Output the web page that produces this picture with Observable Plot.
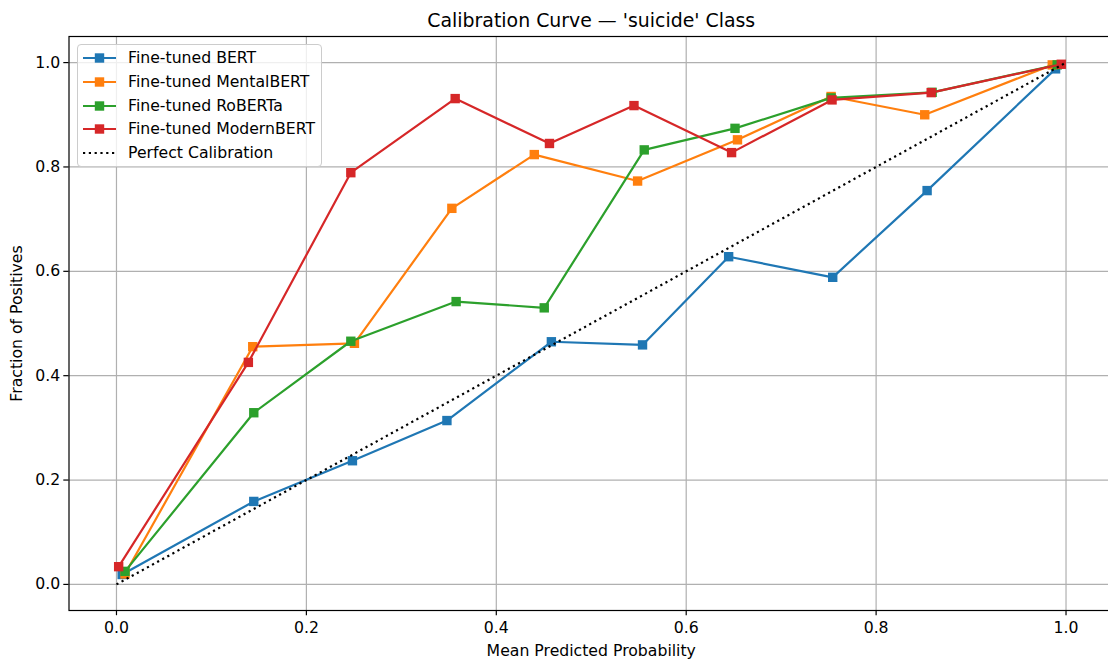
<!DOCTYPE html>
<html>
<head>
<meta charset="utf-8">
<script src="https://cdn.jsdelivr.net/npm/d3@7"></script>
<script src="https://cdn.jsdelivr.net/npm/@observablehq/plot@0.6"></script>
<style>
  html, body { margin: 0; padding: 0; background: white; }
  #wrap { position: relative; width: 1108px; height: 662px; overflow: hidden; background: white; font-family: "DejaVu Sans", sans-serif; }
  #legend { position: absolute; left: 77px; top: 44px; width: 243px; height: 121px; border: 1px solid #cccccc; border-radius: 4px; background: rgba(255,255,255,0.8); box-sizing: content-box; }
  .row { position: absolute; left: 0; height: 20px; display: flex; align-items: center; }
  .row svg { position: absolute; left: 5px; }
  .row span { position: absolute; left: 50px; font-size: 15.7px; color: #000; white-space: nowrap; line-height: 20px; }
</style>
</head>
<body>
<div id="wrap"></div>
<script>
// ---- data ----
const seriesNames = ["Fine-tuned BERT", "Fine-tuned MentalBERT", "Fine-tuned RoBERTa", "Fine-tuned ModernBERT"];
const seriesColors = ["#1f77b4", "#ff7f0e", "#2ca02c", "#d62728"];

const bertX   = [0.006, 0.1446, 0.2485, 0.348, 0.458, 0.554, 0.6447, 0.7543, 0.8537, 0.989];
const bertY   = [0.019, 0.159, 0.237, 0.314, 0.465, 0.459, 0.628, 0.5885, 0.7547, 0.988];
const mentalX = [0.009, 0.1435, 0.2506, 0.3532, 0.44, 0.5488, 0.654, 0.7526, 0.8512, 0.9855];
const mentalY = [0.02, 0.4556, 0.462, 0.7207, 0.8237, 0.773, 0.852, 0.935, 0.900, 0.9956];
const robertaX = [0.009, 0.1446, 0.2468, 0.3577, 0.4505, 0.5558, 0.6514, 0.7526, 0.859, 0.9907];
const robertaY = [0.025, 0.329, 0.466, 0.542, 0.530, 0.8327, 0.874, 0.9323, 0.943, 0.9956];
const modernX = [0.0023, 0.1389, 0.2468, 0.3567, 0.456, 0.545, 0.6478, 0.7536, 0.858, 0.995];
const modernY = [0.034, 0.4255, 0.789, 0.931, 0.845, 0.9176, 0.8275, 0.9285, 0.9425, 0.9968];

const perfectX = [0, 1];
const perfectY = [0, 1];
const perfectName = "Perfect Calibration";

const tickValues = [0, 0.2, 0.4, 0.6, 0.8, 1.0];
const titleText = "Calibration Curve \u2014 'suicide' Class";
const xLabel = "Mean Predicted Probability";
const yLabel = "Fraction of Positives";

// ---- build tables ----
const allX = [bertX, mentalX, robertaX, modernX];
const allY = [bertY, mentalY, robertaY, modernY];
const tables = seriesNames.map((name, i) => allX[i].map((x, j) => ({x, y: allY[i][j], name})));
const perfect = perfectX.map((x, j) => ({x, y: perfectY[j]}));

const lw = 2.2;
const dash = "2.2,3.6";
const fs = 15.7;
const marks = [
  Plot.gridX(tickValues, {stroke: "#b0b0b0", strokeOpacity: 1, strokeWidth: 1.2}),
  Plot.gridY(tickValues, {stroke: "#b0b0b0", strokeOpacity: 1, strokeWidth: 1.2}),
];
tables.forEach((t, i) => {
  marks.push(Plot.line(t, {x: "x", y: "y", stroke: seriesColors[i], strokeWidth: lw}));
  marks.push(Plot.dot(t, {x: "x", y: "y", symbol: "square", r: 5.3, fill: seriesColors[i], stroke: "none"}));
});
marks.push(Plot.line(perfect, {x: "x", y: "y", stroke: "#000", strokeWidth: lw, strokeDasharray: dash, strokeLinecap: "butt"}));
marks.push(Plot.frame({stroke: "#000", strokeWidth: 1.2}));
marks.push(Plot.axisX(tickValues, {tickFormat: d => d.toFixed(1), tickSize: 5.2, tickPadding: 6.2, label: null, fontSize: fs, stroke: "#000", strokeWidth: 1.2, fill: "#000"}));
marks.push(Plot.axisY(tickValues, {tickFormat: d => d.toFixed(1), tickSize: 5.2, tickPadding: 3.5, label: null, fontSize: fs, stroke: "#000", strokeWidth: 1.2, fill: "#000"}));
marks.push(Plot.text([titleText], {frameAnchor: "top", dy: -15.9, fontSize: 18.9, lineAnchor: "middle", textAnchor: "middle", fill: "#000"}));
marks.push(Plot.text([xLabel], {frameAnchor: "bottom", dy: 40.2, fontSize: fs, lineAnchor: "middle", textAnchor: "middle", fill: "#000"}));
marks.push(Plot.text([yLabel], {frameAnchor: "left", dx: -51.8, rotate: -90, fontSize: fs, lineAnchor: "middle", textAnchor: "middle", fill: "#000"}));

const chart = Plot.plot({
  width: 1113,
  height: 662,
  marginLeft: 68.5,
  marginRight: 0,
  marginTop: 36,
  marginBottom: 52,
  x: {domain: [-0.05, 1.05]},
  y: {domain: [-0.05, 1.05]},
  style: {fontFamily: "DejaVu Sans", fontSize: fs + "px", color: "#000", background: "white", maxWidth: "none", overflow: "visible"},
  marks
});

const wrap = document.getElementById("wrap");
wrap.appendChild(chart);

// ---- legend overlay ----
const legend = document.createElement("div");
legend.id = "legend";
const rowTops = [12.7, 37, 61, 84.3, 108.3];
const entries = seriesNames.map((n, i) => ({name: n, color: seriesColors[i], dotted: false}))
  .concat([{name: perfectName, color: "#000", dotted: true}]);
entries.forEach((e, i) => {
  const row = document.createElement("div");
  row.className = "row";
  row.style.top = (rowTops[i] - 10) + "px";
  const ns = "http://www.w3.org/2000/svg";
  const s = document.createElementNS(ns, "svg");
  s.setAttribute("width", "34"); s.setAttribute("height", "20");
  const ln = document.createElementNS(ns, "line");
  ln.setAttribute("x1", "0"); ln.setAttribute("x2", "33");
  ln.setAttribute("y1", "10"); ln.setAttribute("y2", "10");
  ln.setAttribute("stroke", e.color); ln.setAttribute("stroke-width", lw);
  if (e.dotted) ln.setAttribute("stroke-dasharray", dash);
  s.appendChild(ln);
  if (!e.dotted) {
    const r = document.createElementNS(ns, "rect");
    r.setAttribute("x", 16.5 - 4.7); r.setAttribute("y", 10 - 4.7);
    r.setAttribute("width", 9.4); r.setAttribute("height", 9.4);
    r.setAttribute("fill", e.color);
    s.appendChild(r);
  }
  row.appendChild(s);
  const sp = document.createElement("span");
  sp.textContent = e.name;
  row.appendChild(sp);
  legend.appendChild(row);
});
wrap.appendChild(legend);
</script>
</body>
</html>
